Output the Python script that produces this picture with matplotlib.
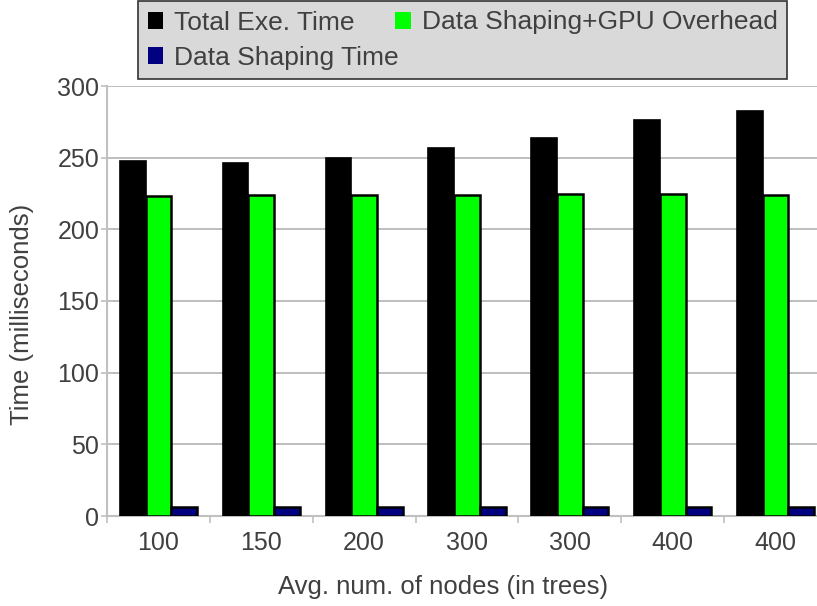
import matplotlib
matplotlib.use("Agg")
import matplotlib.pyplot as plt
from matplotlib.patches import Patch
import numpy as np

categories = ["100", "150", "200", "300", "300", "400", "400"]
total_exe = [248, 246.5, 249.5, 256.5, 263.5, 276.5, 282.5]
shaping_gpu = [223, 224, 224, 224, 225, 225, 224]
shaping_time = [6, 6, 6, 6, 6, 6, 6]
series_names = ["Total Exe. Time", "Data Shaping Time", "Data Shaping+GPU Overhead"]
series_colors = ["#000000", "#000080", "#00ff00"]
y_ticks = [0, 50, 100, 150, 200, 250, 300]

plt.rcParams["font.family"] = ["Liberation Sans", "DejaVu Sans"]
text_color = "#404040"
grid_color = "#b3b3b3"

fig = plt.figure(figsize=(8.17, 6.06), dpi=100)
ax = fig.add_axes([107 / 817, 90 / 606, 720 / 817, 430 / 606])

x = np.arange(len(categories))
w = 0.25
ax.bar(x - w, total_exe, w, color="#000000", edgecolor="#000000", linewidth=1.2, zorder=3)
ax.bar(x, shaping_gpu, w, color="#00ff00", edgecolor="#000000", linewidth=1.8, zorder=3)
ax.bar(x + w, shaping_time, w, color="#000080", edgecolor="#000000", linewidth=1.8, zorder=3)

ax.set_xlim(-0.5, len(categories) - 0.5)
ax.set_ylim(0, 300)
ax.set_yticks(y_ticks)
ax.set_xticks(x)
ax.set_xticklabels(categories)
ax.set_xticks(np.arange(len(categories) + 1) - 0.5, minor=True)

ax.yaxis.grid(True, color=grid_color, linewidth=1.2, zorder=0)
ax.set_axisbelow(True)
for s in ["top", "right"]:
    ax.spines[s].set_visible(False)
for s in ["left", "bottom"]:
    ax.spines[s].set_color("#c0c0c0")
    ax.spines[s].set_linewidth(1.5)

ax.tick_params(axis="y", length=4, width=1.2, color="#c0c0c0", pad=1.5,
               labelsize=18, labelcolor=text_color)
ax.tick_params(axis="x", which="major", length=0, pad=11,
               labelsize=18, labelcolor=text_color)
ax.tick_params(axis="x", which="minor", length=5, width=1.2, color="#c0c0c0")

fig.text(443 / 817, 1 - 587 / 606, "Avg. num. of nodes (in trees)", ha="center",
         va="center", fontsize=18.5, color=text_color)
fig.text(22 / 817, 1 - 314 / 606, "Time (milliseconds)", ha="center", va="center",
         rotation=90, fontsize=18.5, color=text_color)

handles = [Patch(facecolor=c, edgecolor="none") for c in series_colors]
leg = fig.legend(handles, series_names, ncol=2, mode="expand",
                 loc="upper left",
                 bbox_to_anchor=(138 / 817, 1 - 1 / 606, 649 / 817, 0.0),
                 fontsize=19, frameon=True, fancybox=False, shadow=False,
                 handlelength=0.6, handleheight=0.6, handletextpad=0.4,
                 labelspacing=0.42, borderpad=0.36, borderaxespad=0.0,
                 columnspacing=1.0)
frame = leg.get_frame()
frame.set_facecolor("#d9d9d9")
frame.set_edgecolor("#333333")
frame.set_linewidth(1.2)
frame.set_alpha(1.0)
for t in leg.get_texts():
    t.set_color(text_color)

fig.savefig("out.png", dpi=100)
